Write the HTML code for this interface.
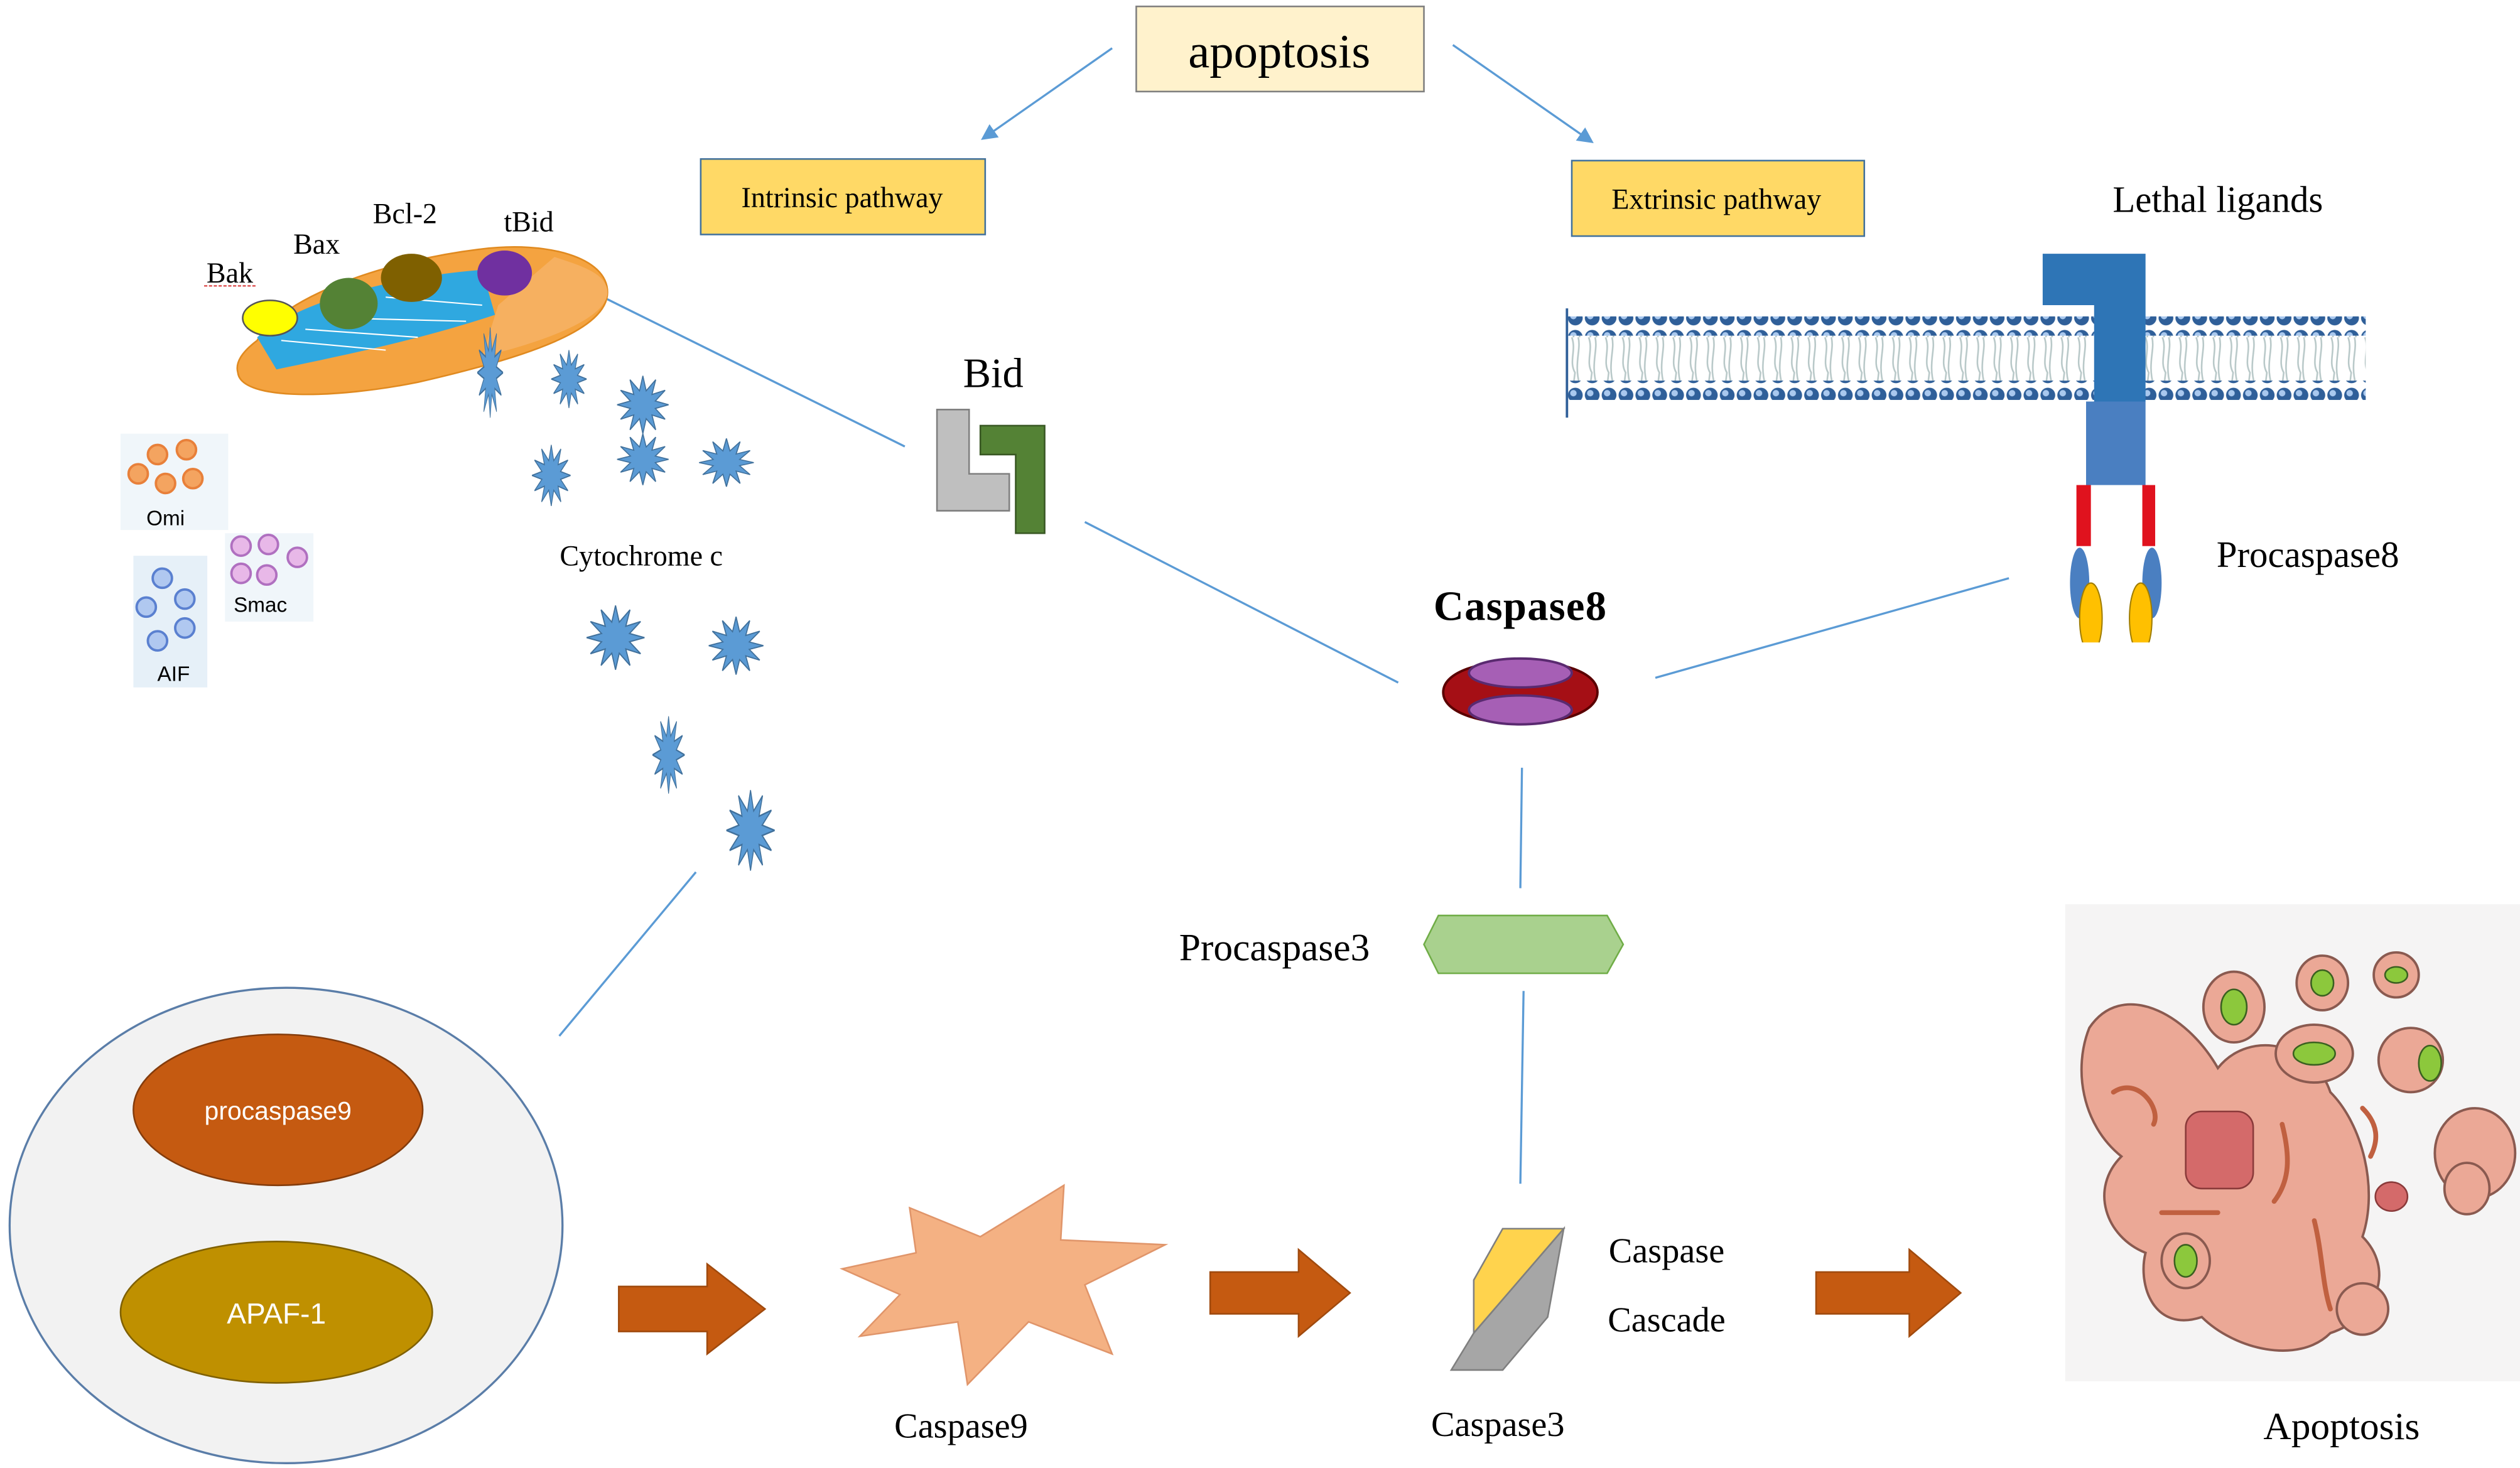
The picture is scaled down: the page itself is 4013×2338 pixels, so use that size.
<!DOCTYPE html>
<html><head><meta charset="utf-8"><style>html,body{margin:0;padding:0;background:#fff}svg{display:block}</style></head><body>
<svg width="4013" height="2338" viewBox="0 0 1568 914" preserveAspectRatio="none" xmlns="http://www.w3.org/2000/svg" font-family="'Liberation Serif', serif">
<defs>
<marker id="ah" markerWidth="10" markerHeight="10" refX="8" refY="5" orient="auto" markerUnits="userSpaceOnUse"><path d="M0,0 L10,5 L0,10 z" fill="#5b9bd5"/></marker>
<polygon id="st" points="1,0 0.483,0.129 0.866,0.5 0.354,0.354 0.5,0.866 0.129,0.483 0,1 -0.129,0.483 -0.5,0.866 -0.354,0.354 -0.866,0.5 -0.483,0.129 -1,0 -0.483,-0.129 -0.866,-0.5 -0.354,-0.354 -0.5,-0.866 -0.129,-0.483 0,-1 0.129,-0.483 0.5,-0.866 0.354,-0.354 0.866,-0.5 0.483,-0.129" fill="#5b9bd5" stroke="#41719c" stroke-width="0.04"/>
<pattern id="bead" x="975" y="0" width="10.5" height="12" patternUnits="userSpaceOnUse"><circle cx="5.2" cy="6" r="4.6" fill="#2f5f99"/><circle cx="4" cy="4.8" r="2" fill="#a9c8ee"/></pattern>
<pattern id="tail" x="975" y="0" width="10.5" height="30" patternUnits="userSpaceOnUse"><path d="M3,0 C6,8 1,15 5,22 L4,30 M7,0 C9,8 4,16 8,30" stroke="#b8c8c8" fill="none" stroke-width="1"/></pattern>
</defs>

<rect x="707" y="4" width="179" height="53" fill="#fff2cc" stroke="#7f7f7f" stroke-width="1"/>
<text x="796" y="42" font-size="30" text-anchor="middle">apoptosis</text>
<line x1="692" y1="30" x2="612" y2="86" stroke="#5b9bd5" stroke-width="1.3" marker-end="url(#ah)"/>
<line x1="904" y1="28" x2="990" y2="88" stroke="#5b9bd5" stroke-width="1.3" marker-end="url(#ah)"/>
<rect x="436" y="99" width="177" height="47" fill="#ffd966" stroke="#41719c" stroke-width="1"/>
<text x="524" y="129" font-size="18" text-anchor="middle">Intrinsic pathway</text>
<rect x="978" y="100" width="182" height="47" fill="#ffd966" stroke="#41719c" stroke-width="1"/>
<text x="1068" y="130" font-size="18" text-anchor="middle">Extrinsic pathway</text>
<text x="1380" y="132" font-size="23" text-anchor="middle">Lethal ligands</text>

<rect x="975" y="208" width="497" height="30" fill="url(#tail)"/>
<rect x="975" y="197" width="497" height="12" fill="url(#bead)"/>
<rect x="975" y="237" width="497" height="12" fill="url(#bead)"/>
<line x1="975" y1="192" x2="975" y2="260" stroke="#2f5f99" stroke-width="1.5"/>
<path d="M1271,158 H1335 V250 H1303 V190 H1271 Z" fill="#2e75b6"/>
<rect x="1298" y="250" width="37" height="52" fill="#4a7fc1"/>
<rect x="1292" y="302" width="9" height="38" fill="#e0121e"/>
<rect x="1333" y="302" width="8" height="38" fill="#e0121e"/>
<ellipse cx="1294" cy="363" rx="6" ry="22" fill="#4a7fc1"/>
<ellipse cx="1339" cy="363" rx="6" ry="22" fill="#4a7fc1"/>
<ellipse cx="1301" cy="385" rx="7" ry="22" fill="#ffc000" stroke="#a07d00" stroke-width="0.8"/>
<ellipse cx="1332" cy="385" rx="7" ry="22" fill="#ffc000" stroke="#a07d00" stroke-width="0.8"/>
<rect x="1285" y="400" width="60" height="10" fill="#fff"/>
<text x="1436" y="353" font-size="23" text-anchor="middle">Procaspase8</text>

<text x="946" y="386" font-size="26" font-weight="bold" text-anchor="middle" letter-spacing="0.5">Caspase8</text>
<path d="M898,431 C898,405 994,405 994,431 C994,457 898,457 898,431 Z" fill="#a50f15" stroke="#5a0000" stroke-width="1.5"/>
<ellipse cx="946" cy="419" rx="32" ry="9" fill="#a65fb5" stroke="#5a2a70" stroke-width="1.5"/>
<ellipse cx="946" cy="442" rx="32" ry="9" fill="#a65fb5" stroke="#5a2a70" stroke-width="1.5"/>

<g stroke="#5b9bd5" stroke-width="1.3" fill="none">
<line x1="1030" y1="422" x2="1250" y2="360"/>
<line x1="675" y1="325" x2="870" y2="425"/>
<line x1="345" y1="170" x2="563" y2="278"/>
<line x1="947" y1="478" x2="946" y2="553"/>
<line x1="948" y1="617" x2="946" y2="737"/>
<line x1="433" y1="543" x2="348" y2="645"/>
</g>

<text x="618" y="241" font-size="26" text-anchor="middle">Bid</text>
<path d="M583,255 H603 V295 H628 V318 H583 Z" fill="#bfbfbf" stroke="#7f7f7f"/>
<path d="M610,265 H650 V332 H632 V283 H610 Z" fill="#548235" stroke="#385723"/>

<path d="M160,212 C175,185 240,162 300,155 C340,150 378,160 378,182 C378,205 330,222 260,238 C210,248 150,250 148,232 C146,225 152,218 160,212 Z" fill="#f4a340" stroke="#e08a20"/>
<path d="M160,210 C190,185 250,172 300,168 L308,196 C260,212 210,222 172,230 Z" fill="#2fa8e0"/>
<g stroke="#fff" stroke-width="0.8"><line x1="175" y1="212" x2="240" y2="218"/><line x1="190" y1="205" x2="260" y2="210"/><line x1="210" y1="198" x2="290" y2="200"/><line x1="240" y1="185" x2="300" y2="190"/></g>
<path d="M345,160 C360,165 378,170 378,182 C378,200 330,215 300,222 L310,190 Z" fill="#f6b060"/>
<ellipse cx="168" cy="198" rx="17" ry="11" fill="#ffff00" stroke="#555"/>
<ellipse cx="217" cy="189" rx="18" ry="16" fill="#548235"/>
<ellipse cx="256" cy="173" rx="19" ry="15" fill="#7f6000"/>
<ellipse cx="314" cy="170" rx="17" ry="14" fill="#7030a0"/>
<g font-size="18">
<text x="143" y="176" text-anchor="middle">Bak</text>
<text x="197" y="158" text-anchor="middle">Bax</text>
<text x="252" y="139" text-anchor="middle">Bcl-2</text>
<text x="329" y="144" text-anchor="middle">tBid</text>
</g>
<line x1="127" y1="178" x2="160" y2="178" stroke="#e06060" stroke-width="1" stroke-dasharray="2,1"/>

<rect x="75" y="270" width="67" height="60" fill="#f0f6fa"/>
<g fill="#f4a460" stroke="#e8803a" stroke-width="1.5">
<circle cx="98" cy="283" r="6"/><circle cx="116" cy="280" r="6"/><circle cx="86" cy="295" r="6"/><circle cx="103" cy="301" r="6"/><circle cx="120" cy="298" r="6"/></g>
<text x="103" y="327" font-size="13" font-family="'Liberation Sans', sans-serif" text-anchor="middle">Omi</text>
<rect x="140" y="332" width="55" height="55" fill="#f0f6fa"/>
<g fill="#e8b8e8" stroke="#b070c0" stroke-width="1.5">
<circle cx="150" cy="340" r="6"/><circle cx="167" cy="339" r="6"/><circle cx="185" cy="347" r="6"/><circle cx="150" cy="357" r="6"/><circle cx="166" cy="358" r="6"/></g>
<text x="162" y="381" font-size="13" font-family="'Liberation Sans', sans-serif" text-anchor="middle">Smac</text>
<rect x="83" y="346" width="46" height="82" fill="#e6f0f8"/>
<g fill="#b0c8f0" stroke="#5a80d0" stroke-width="1.5">
<circle cx="101" cy="360" r="6"/><circle cx="115" cy="373" r="6"/><circle cx="91" cy="378" r="6"/><circle cx="115" cy="391" r="6"/><circle cx="98" cy="399" r="6"/></g>
<text x="108" y="424" font-size="13" font-family="'Liberation Sans', sans-serif" text-anchor="middle">AIF</text>

<use href="#st" transform="translate(305,232) scale(8,28)"/>
<use href="#st" transform="translate(354,236) scale(11,18)"/>
<use href="#st" transform="translate(400,252) scale(16,18)"/>
<use href="#st" transform="translate(343,296) scale(12,19)"/>
<use href="#st" transform="translate(400,286) scale(16,16)"/>
<use href="#st" transform="translate(452,288) scale(17,15)"/>
<use href="#st" transform="translate(383,397) scale(18,20)"/>
<use href="#st" transform="translate(458,402) scale(17,18)"/>
<use href="#st" transform="translate(416,470) scale(10,24)"/>
<use href="#st" transform="translate(467,517) scale(15,25)"/>
<text x="399" y="352" font-size="18" text-anchor="middle">Cytochrome c</text>

<ellipse cx="178" cy="763" rx="172" ry="148" fill="#f2f2f2" stroke="#5a7da8" stroke-width="1.3"/>
<ellipse cx="173" cy="691" rx="90" ry="47" fill="#c55a11" stroke="#843c0c"/>
<text x="173" y="697" font-size="16" fill="#fff" font-family="'Liberation Sans', sans-serif" text-anchor="middle">procaspase9</text>
<ellipse cx="172" cy="817" rx="97" ry="44" fill="#bf9000" stroke="#7f6000"/>
<text x="172" y="824" font-size="18" fill="#fff" font-family="'Liberation Sans', sans-serif" text-anchor="middle">APAF-1</text>

<g fill="#c55a11" stroke="#a04a0e" stroke-width="1">
<path d="M385,801 H440 V787 L476,815 L440,843 V829 H385 Z"/>
<path d="M753,792 H808 V778 L840,805 L808,832 V818 H753 Z"/>
<path d="M1130,792 H1188 V778 L1220,805 L1188,832 V818 H1130 Z"/>
</g>

<polygon points="662,738 660,772 725,775 675,800 692,843 640,823 602,862 596,823 535,832 560,806 524,790 570,780 566,752 610,770" fill="#f4b183" stroke="#e0956a"/>
<text x="598" y="895" font-size="22" font-family="'Liberation Serif', serif" text-anchor="middle">Caspase9</text>

<polygon points="895,570 1000,570 1010,588 1000,606 895,606 886,588" fill="#a9d18e" stroke="#70ad47"/>
<text x="793" y="598" font-size="24" text-anchor="middle">Procaspase3</text>

<polygon points="917,830 917,797 935,765 973,765" fill="#ffd34d" stroke="#7f7f7f"/>
<polygon points="917,830 973,765 963,820 935,853 903,853" fill="#a6a6a6" stroke="#7f7f7f"/>
<g font-family="'Liberation Serif', serif" font-size="22" text-anchor="middle">
<text x="932" y="894">Caspase3</text>
<text x="1037" y="786">Caspase</text>
<text x="1037" y="829">Cascade</text>
</g>

<rect x="1285" y="563" width="283" height="297" fill="#f5f4f4"/>
<path d="M1300,640 C1320,610 1360,630 1380,665 C1400,640 1440,650 1450,680 C1470,700 1480,740 1470,770 C1490,790 1480,820 1450,830 C1430,850 1390,840 1370,820 C1340,830 1330,800 1335,780 C1310,770 1300,740 1320,720 C1295,700 1290,665 1300,640 Z" fill="#eba896" stroke="#8a5a50" stroke-width="1.5"/>
<g fill="#eba896" stroke="#8a5a50" stroke-width="1.5">
<ellipse cx="1390" cy="627" rx="19" ry="22"/><ellipse cx="1445" cy="612" rx="16" ry="17"/><ellipse cx="1491" cy="607" rx="14" ry="14"/><ellipse cx="1440" cy="656" rx="24" ry="18"/><ellipse cx="1500" cy="660" rx="20" ry="20"/><ellipse cx="1540" cy="718" rx="25" ry="28"/><ellipse cx="1535" cy="740" rx="14" ry="16"/><ellipse cx="1360" cy="785" rx="15" ry="17"/><ellipse cx="1470" cy="815" rx="16" ry="16"/></g>
<g fill="#8cc83c" stroke="#3a6020" stroke-width="1">
<ellipse cx="1390" cy="627" rx="8" ry="11"/><ellipse cx="1445" cy="612" rx="7" ry="8"/><ellipse cx="1491" cy="607" rx="7" ry="5"/><ellipse cx="1440" cy="656" rx="13" ry="7"/><ellipse cx="1512" cy="662" rx="7" ry="11"/><ellipse cx="1360" cy="785" rx="7" ry="10"/></g>
<rect x="1360" y="692" width="42" height="48" rx="10" fill="#d46a6a" stroke="#8a3a3a"/>
<ellipse cx="1488" cy="745" rx="10" ry="9" fill="#d46a6a" stroke="#8a3a3a"/>
<g stroke="#c06040" stroke-width="3" fill="none" stroke-linecap="round">
<path d="M1315,680 C1330,670 1345,690 1340,700"/><path d="M1420,700 C1425,720 1425,735 1415,748"/><path d="M1440,760 C1445,780 1445,800 1450,815"/><path d="M1345,755 H1380"/><path d="M1470,690 C1480,700 1480,710 1475,720"/></g>
<text x="1457" y="896" font-size="24" text-anchor="middle">Apoptosis</text>
</svg>
</body></html>
